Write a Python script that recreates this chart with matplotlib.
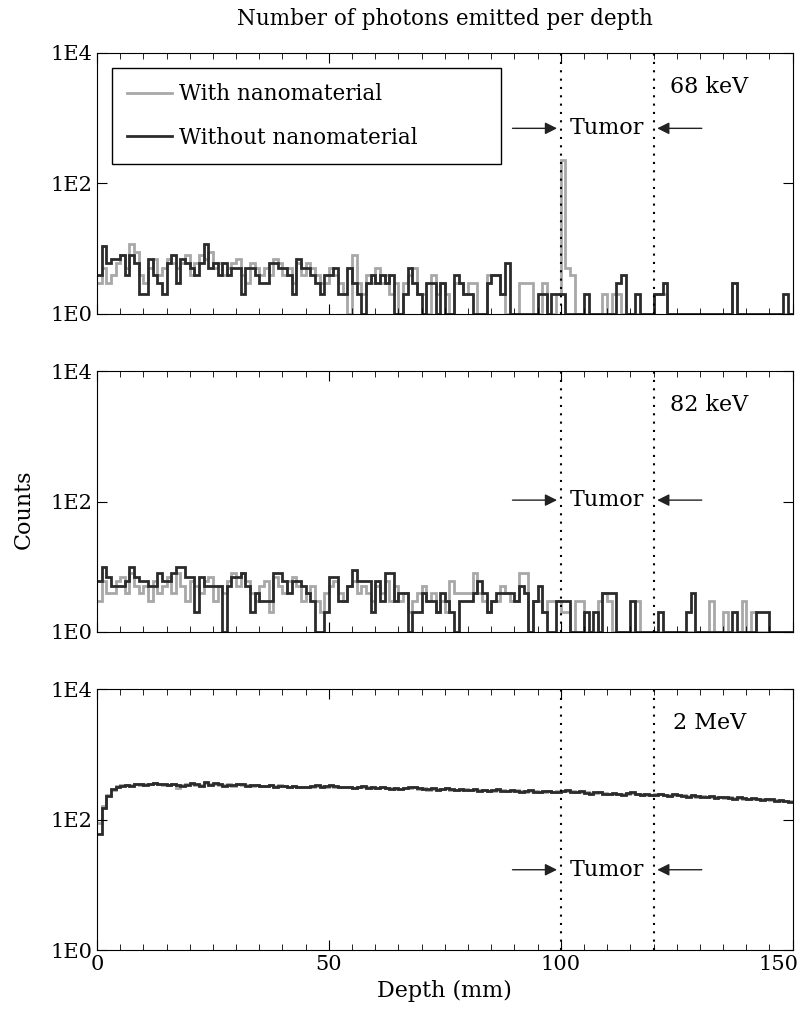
import matplotlib.pyplot as plt
import matplotlib.transforms as mtransforms
import numpy as np

# photon counts per 1 mm depth bin (0..150 mm)
without_68 = [4, 11, 6, 7, 7, 8, 4, 8, 6, 2,
              2, 7, 4, 3, 2, 6, 8, 3, 7, 6,
              5, 4, 6, 12, 5, 6, 4, 6, 4, 5,
              5, 2, 5, 5, 4, 3, 3, 6, 6, 5,
              5, 4, 2, 7, 5, 5, 4, 3, 2, 4,
              4, 5, 2, 2, 5, 3, 2, 1, 3, 4,
              3, 4, 3, 4, 1, 1, 2, 5, 3, 2,
              1, 3, 3, 1, 3, 1, 1, 4, 3, 2,
              2, 1, 1, 1, 3, 4, 4, 2, 6, 1,
              1, 1, 1, 1, 1, 2, 2, 1, 2, 2,
              2, 1, 1, 1, 1, 2, 1, 1, 1, 1,
              1, 1, 3, 4, 1, 1, 2, 1, 1, 1,
              2, 2, 3, 1, 1, 1, 1, 1, 1, 1,
              1, 1, 1, 1, 1, 1, 1, 3, 1, 1,
              1, 1, 1, 1, 1, 1, 1, 1, 2, 1]
with_68 = [3, 5, 3, 4, 6, 8, 5, 12, 9, 4,
           3, 5, 7, 4, 5, 7, 6, 5, 6, 8,
           4, 6, 8, 7, 9, 5, 6, 4, 5, 6,
           7, 4, 3, 6, 5, 4, 5, 4, 7, 6,
           4, 5, 3, 6, 4, 6, 5, 4, 3, 3,
           5, 4, 3, 2, 1, 8, 3, 2, 4, 3,
           5, 3, 4, 2, 3, 1, 3, 4, 5, 2,
           2, 1, 4, 2, 3, 2, 1, 3, 3, 2,
           3, 3, 1, 1, 4, 4, 4, 2, 1, 1,
           1, 3, 3, 3, 1, 1, 3, 1, 1, 2,
           230, 5, 4, 1, 1, 1, 1, 1, 1, 2,
           1, 2, 2, 1, 1, 1, 1, 1, 1, 1,
           2, 2, 2, 1, 1, 1, 1, 1, 1, 1,
           1, 1, 1, 1, 1, 1, 1, 3, 1, 1,
           1, 1, 1, 1, 1, 1, 1, 1, 1, 1]

without_82 = [6, 10, 7, 5, 5, 5, 6, 10, 7, 6,
              6, 5, 5, 8, 6, 6, 8, 10, 10, 7,
              7, 2, 7, 5, 5, 5, 5, 1, 5, 7,
              7, 8, 5, 2, 4, 3, 3, 3, 8, 8,
              6, 4, 6, 6, 5, 4, 3, 1, 1, 2,
              7, 7, 3, 3, 5, 9, 6, 6, 6, 2,
              6, 3, 8, 8, 3, 4, 4, 1, 2, 2,
              4, 3, 3, 2, 4, 3, 2, 1, 3, 3,
              3, 4, 6, 4, 2, 3, 4, 4, 4, 4,
              3, 5, 4, 1, 3, 5, 2, 1, 1, 3,
              3, 3, 1, 1, 1, 2, 1, 2, 1, 4,
              4, 4, 1, 1, 1, 3, 1, 1, 1, 1,
              1, 2, 1, 1, 1, 1, 1, 2, 4, 1,
              1, 1, 1, 1, 1, 1, 1, 2, 1, 1,
              1, 1, 2, 2, 2, 1, 1, 1, 1, 1]
with_82 = [3, 6, 4, 4, 6, 7, 4, 8, 5, 4,
           5, 3, 6, 4, 5, 7, 4, 8, 5, 3,
           6, 5, 4, 6, 7, 3, 5, 4, 6, 8,
           5, 8, 6, 4, 3, 5, 6, 2, 7, 5,
           4, 6, 7, 5, 3, 4, 5, 3, 2, 4,
           5, 6, 4, 3, 5, 6, 4, 5, 4, 3,
           5, 4, 6, 3, 5, 3, 4, 2, 3, 4,
           5, 3, 4, 2, 3, 2, 6, 4, 4, 4,
           4, 8, 4, 3, 2, 3, 3, 5, 4, 3,
           3, 8, 8, 1, 3, 3, 2, 3, 3, 3,
           2, 2, 1, 3, 3, 1, 1, 1, 3, 4,
           3, 1, 1, 1, 1, 1, 3, 1, 1, 1,
           1, 1, 1, 1, 1, 1, 1, 1, 1, 1,
           1, 1, 3, 1, 1, 2, 1, 1, 1, 3,
           1, 2, 1, 1, 1, 1, 1, 1, 1, 1]

without_2m = [60, 150, 230, 290, 320, 330, 340, 330, 345, 350,
              340, 355, 360, 350, 345, 340, 350, 335, 330, 340,
              360, 345, 330, 370, 340, 360, 345, 330, 340, 335,
              350, 345, 330, 340, 335, 325, 330, 340, 320, 330,
              325, 320, 330, 315, 320, 310, 325, 335, 320, 330,
              340, 325, 315, 320, 310, 300, 315, 325, 305, 310,
              300, 315, 305, 295, 300, 290, 300, 310, 320, 300,
              295, 290, 300, 285, 295, 305, 290, 280, 290, 285,
              280, 290, 275, 285, 270, 280, 290, 275, 270, 280,
              275, 265, 270, 280, 265, 260, 270, 275, 260, 265,
              270, 280, 265, 260, 270, 255, 250, 260, 265, 250,
              245, 255, 250, 240, 255, 265, 250, 240, 245, 235,
              240, 250, 235, 230, 245, 240, 230, 225, 235, 230,
              225, 220, 230, 215, 225, 220, 215, 210, 220, 215,
              205, 215, 210, 200, 210, 205, 195, 200, 190, 185]
with_2m = [90, 160, 240, 280, 330, 340, 335, 340, 350, 340,
           345, 350, 365, 355, 340, 335, 345, 300, 335, 345,
           350, 340, 335, 360, 345, 350, 340, 335, 345, 330,
           345, 340, 335, 330, 340, 330, 325, 335, 325, 335,
           330, 315, 325, 320, 315, 315, 320, 330, 325, 320,
           330, 320, 320, 310, 315, 305, 310, 320, 310, 305,
           305, 310, 300, 300, 295, 295, 305, 305, 310, 295,
           300, 285, 295, 290, 290, 300, 285, 285, 285, 290,
           285, 285, 280, 280, 275, 275, 285, 280, 275, 275,
           280, 270, 265, 275, 270, 265, 265, 270, 265, 270,
           275, 275, 270, 265, 265, 260, 255, 255, 260, 255,
           250, 250, 245, 245, 250, 255, 245, 245, 240, 240,
           245, 245, 240, 235, 240, 235, 235, 230, 230, 225,
           230, 225, 225, 220, 220, 215, 220, 215, 215, 210,
           210, 210, 205, 205, 205, 200, 200, 195, 195, 190]

energies = ['68 keV', '82 keV', '2 MeV']
tumor_y = [700, 105, 17]
edges = np.arange(0, 151)

plt.rcParams['font.family'] = 'DejaVu Serif'
fig = plt.figure(figsize=(8.08, 10.19), dpi=100)

bottoms = [0.6919, 0.3798, 0.0677]
panels = [(with_68, without_68), (with_82, without_82), (with_2m, without_2m)]

for k in range(3):
    ax = fig.add_axes([0.120, bottoms[k], 0.861, 0.2561])
    w, wo = panels[k]
    ax.stairs(w, edges, baseline=None, color='#a8a8a8', lw=2, label='With nanomaterial')
    ax.stairs(wo, edges, baseline=None, color='#2b2b2b', lw=2, label='Without nanomaterial')
    ax.set_yscale('log')
    ax.set_ylim(1, 1e4)
    ax.set_xlim(0, 150)
    ax.axvline(100, color='black', ls=(0, (1, 3)), lw=1.5)
    ax.axvline(120, color='black', ls=(0, (1, 3)), lw=1.5)

    ax.set_yticks([1, 100, 1e4])
    ax.set_yticklabels(['1E0', '1E2', '1E4'])
    ax.yaxis.set_minor_locator(plt.NullLocator())
    ax.set_xticks([0, 50, 100, 150])
    ax.set_xticks(np.arange(0, 151, 5), minor=True)
    ax.tick_params(direction='in', top=True, right=True, which='both', labelsize=15)
    ax.tick_params(which='major', length=7)
    ax.tick_params(which='minor', length=4)
    if k < 2:
        ax.set_xticklabels([])
    else:
        # last label sits against the figure edge, nudge it left a little
        lab = ax.get_xticklabels()[-1]
        lab.set_transform(lab.get_transform() +
                          mtransforms.ScaledTranslation(-0.14, 0, fig.dpi_scale_trans))

    ty = tumor_y[k]
    ax.text(110, ty, 'Tumor', ha='center', va='center', fontsize=16)
    ax.annotate('', xy=(99.8, ty), xytext=(89, ty),
                arrowprops=dict(arrowstyle='-|>', color='#222222', lw=1, mutation_scale=18))
    ax.annotate('', xy=(120.2, ty), xytext=(131, ty),
                arrowprops=dict(arrowstyle='-|>', color='#222222', lw=1, mutation_scale=18))
    ax.text(0.88, 0.87, energies[k], transform=ax.transAxes, ha='center', va='center', fontsize=16)

    if k == 0:
        ax.legend(loc='upper left', bbox_to_anchor=(0.0216, 0.567, 0.559, 0.3755),
                  mode='expand', borderaxespad=0,
                  fontsize=15.5, frameon=True, fancybox=False, edgecolor='black',
                  framealpha=1, handlelength=2.1, handletextpad=0.3,
                  labelspacing=1.0, borderpad=0.7)
        ax.set_title('Number of photons emitted per depth', fontsize=15.5, pad=20)
    if k == 2:
        ax.set_xlabel('Depth (mm)', fontsize=16)

fig.text(0.03, 0.5, 'Counts', rotation=90, ha='center', va='center', fontsize=16)

plt.savefig('out.png', dpi=100)
